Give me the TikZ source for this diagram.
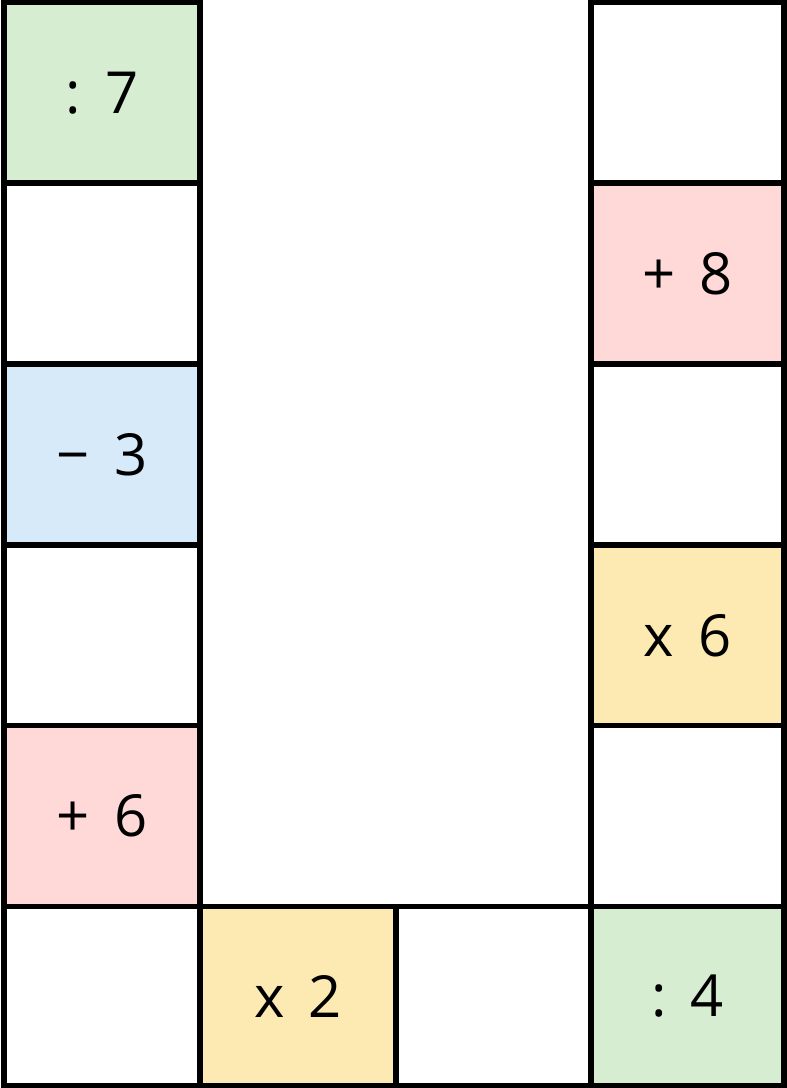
\documentclass[tikz,border=0pt]{standalone}
\usepackage{fontspec}
\setmainfont{Open Sans}
\definecolor{cgreen}{RGB}{214,237,210}
\definecolor{cpink}{RGB}{255,217,216}
\definecolor{cblue}{RGB}{214,234,249}
\definecolor{cyellow}{RGB}{252,234,178}
\newcommand{\opgap}{\hspace{0.42em}}
\begin{document}
\begin{tikzpicture}[x=1pt,y=-1pt,
  cell/.style={draw=black,line width=5.5pt,rectangle,inner sep=0pt,
    minimum width=#1,minimum height=181pt,font=\fontsize{58}{60}\selectfont},
  cell/.default=196pt]
\path[use as bounding box,fill=white] (0,0) rectangle (787,1088);
% left column
\node[cell,fill=cgreen] (l1) at (102,93) {:\opgap7};
\node[cell,fill=white] (l2) at (102,273.5) {};
\node[cell,fill=cblue] (l3) at (102,454.5) {−\opgap3};
\node[cell,fill=white] (l4) at (102,635.5) {};
\node[cell,fill=cpink] (l5) at (102,816) {+\opgap6};
\node[cell,fill=white,minimum height=179.5pt] (l6) at (102,996.25) {};
% bottom middle
\node[cell,fill=cyellow,minimum height=179.5pt] (b1) at (298,996.25) {x\opgap2};
\node[cell=195pt,fill=white,minimum height=179.5pt] (b2) at (493.5,996.25) {};
% right column
\node[cell=193pt,fill=white] (r1) at (687.5,93) {};
\node[cell=193pt,fill=cpink] (r2) at (687.5,273.5) {+\opgap8};
\node[cell=193pt,fill=white] (r3) at (687.5,454.5) {};
\node[cell=193pt,fill=cyellow] (r4) at (687.5,635.5) {x\opgap6};
\node[cell=193pt,fill=white] (r5) at (687.5,816) {};
\node[cell=193pt,fill=cgreen,minimum height=179.5pt] (r6) at (687.5,996.25) {:\opgap4};
\end{tikzpicture}
\end{document}
